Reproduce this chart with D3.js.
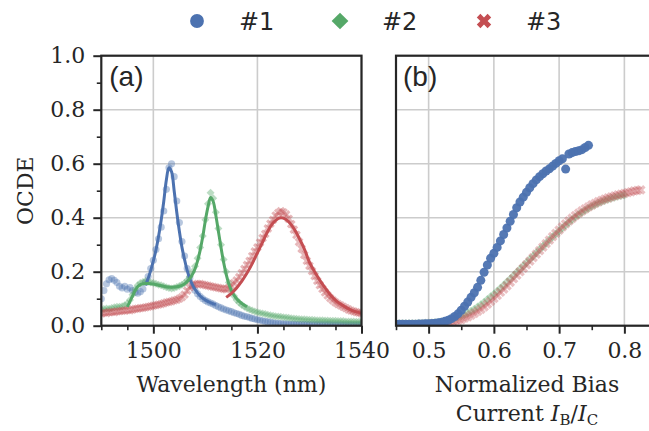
<!DOCTYPE html>
<html>
<head>
<meta charset="utf-8">
<script src="https://cdn.jsdelivr.net/npm/d3@7"></script>
<style>
  body { margin: 0; background: #fff; }
  svg text { fill: #262626; }
</style>
</head>
<body>
<svg id="chart" width="649" height="431"></svg>
<script>
// ---------- data ----------
const seriesNames = ["#1", "#2", "#3"];
const seriesColors = ["#4c72b0", "#55a868", "#c44e52"];

// (a) OCDE spectra, sampled every 0.5 nm from 1490 to 1540 nm
const wavelengthStart = 1490, wavelengthStep = 0.5;
const spec1 = [
  0.100, 0.130, 0.155, 0.170, 0.175, 0.168, 0.160, 0.146, 0.140, 0.146,
  0.135, 0.141, 0.130, 0.124, 0.120, 0.126, 0.136, 0.160, 0.182, 0.212,
  0.242, 0.282, 0.322, 0.365, 0.425, 0.505, 0.585, 0.600, 0.552, 0.462,
  0.382, 0.312, 0.258, 0.212, 0.176, 0.150, 0.131, 0.118, 0.108, 0.100,
  0.093, 0.088, 0.084, 0.080, 0.075, 0.070, 0.066, 0.062, 0.058, 0.055,
  0.052, 0.048, 0.045, 0.042, 0.038, 0.035, 0.033, 0.030, 0.027, 0.025,
  0.022, 0.020, 0.018, 0.016, 0.014, 0.013, 0.011, 0.010, 0.009, 0.008,
  0.007, 0.007, 0.006, 0.006, 0.006, 0.005, 0.005, 0.005, 0.005, 0.005,
  0.004, 0.004, 0.004, 0.004, 0.004, 0.004, 0.004, 0.004, 0.004, 0.003,
  0.003, 0.003, 0.003, 0.003, 0.003, 0.003, 0.003, 0.003, 0.003, 0.003,
  0.003
];
const spec2 = [
  0.060, 0.062, 0.064, 0.063, 0.066, 0.068, 0.070, 0.070, 0.072, 0.076,
  0.082, 0.095, 0.115, 0.135, 0.150, 0.158, 0.162, 0.166, 0.163, 0.160,
  0.158, 0.155, 0.152, 0.150, 0.146, 0.142, 0.140, 0.138, 0.140, 0.143,
  0.147, 0.152, 0.158, 0.168, 0.182, 0.200, 0.220, 0.250, 0.290, 0.332,
  0.392, 0.452, 0.492, 0.472, 0.420, 0.360, 0.300, 0.245, 0.200, 0.160,
  0.130, 0.110, 0.095, 0.085, 0.077, 0.070, 0.065, 0.060, 0.056, 0.053,
  0.050, 0.047, 0.045, 0.043, 0.041, 0.039, 0.037, 0.035, 0.034, 0.033,
  0.031, 0.030, 0.029, 0.028, 0.027, 0.026, 0.025, 0.024, 0.024, 0.023,
  0.022, 0.022, 0.021, 0.020, 0.020, 0.020, 0.019, 0.019, 0.018, 0.018,
  0.018, 0.017, 0.017, 0.017, 0.016, 0.016, 0.016, 0.016, 0.015, 0.015,
  0.015
];
const spec3 = [
  0.046, 0.048, 0.047, 0.050, 0.051, 0.050, 0.053, 0.054, 0.055, 0.056,
  0.058, 0.057, 0.060, 0.062, 0.063, 0.065, 0.066, 0.068, 0.070, 0.072,
  0.074, 0.076, 0.078, 0.080, 0.083, 0.086, 0.088, 0.090, 0.094, 0.096,
  0.100, 0.106, 0.115, 0.130, 0.142, 0.150, 0.153, 0.155, 0.155, 0.152,
  0.150, 0.148, 0.146, 0.144, 0.142, 0.140, 0.138, 0.136, 0.135, 0.140,
  0.148, 0.158, 0.168, 0.180, 0.195, 0.210, 0.225, 0.240, 0.258, 0.275,
  0.290, 0.308, 0.325, 0.340, 0.360, 0.378, 0.392, 0.408, 0.418, 0.424,
  0.420, 0.412, 0.396, 0.376, 0.356, 0.336, 0.310, 0.285, 0.262, 0.240,
  0.222, 0.202, 0.184, 0.166, 0.150, 0.136, 0.123, 0.112, 0.102, 0.094,
  0.086, 0.080, 0.075, 0.070, 0.065, 0.060, 0.056, 0.053, 0.050, 0.048,
  0.046
];

// (a) fitted resonance curves
const fit1X = [1498.5, 1499, 1499.5, 1500, 1500.5, 1501, 1501.5, 1502, 1502.5, 1503, 1503.5, 1504, 1504.5, 1505, 1505.5, 1506, 1506.5, 1507, 1507.5, 1508, 1509, 1510, 1511, 1512];
const fit1Y = [0.150, 0.175, 0.205, 0.240, 0.280, 0.330, 0.390, 0.460, 0.540, 0.585, 0.570, 0.500, 0.420, 0.350, 0.290, 0.245, 0.205, 0.175, 0.152, 0.135, 0.110, 0.095, 0.085, 0.078];
const fit2X = [1495, 1495.5, 1496, 1496.5, 1497, 1497.5, 1498, 1499, 1500, 1501, 1502, 1503, 1504, 1505, 1506, 1507, 1507.5, 1508, 1508.5, 1509, 1509.5, 1510, 1510.5, 1511, 1511.5, 1512, 1512.5, 1513, 1513.5, 1514, 1514.5, 1515, 1516, 1517, 1518];
const fit2Y = [0.070, 0.090, 0.110, 0.130, 0.145, 0.152, 0.155, 0.156, 0.154, 0.150, 0.146, 0.143, 0.143, 0.146, 0.155, 0.175, 0.190, 0.210, 0.240, 0.280, 0.330, 0.390, 0.440, 0.475, 0.460, 0.410, 0.350, 0.290, 0.235, 0.190, 0.155, 0.130, 0.100, 0.082, 0.070];
const fit3X = [1514, 1515, 1516, 1517, 1518, 1519, 1520, 1521, 1522, 1523, 1524, 1524.5, 1525, 1526, 1527, 1528, 1529, 1530, 1531, 1532, 1533, 1534, 1535, 1536, 1537, 1538, 1539, 1540];
const fit3Y = [0.105, 0.120, 0.140, 0.165, 0.195, 0.230, 0.270, 0.310, 0.350, 0.380, 0.397, 0.400, 0.398, 0.385, 0.360, 0.325, 0.285, 0.235, 0.200, 0.168, 0.140, 0.115, 0.095, 0.080, 0.068, 0.058, 0.051, 0.046];

// (b) OCDE versus normalized bias current, sampled every 0.005 from 0.45
const biasStart = 0.45, biasStep = 0.005;
const bias1 = [
  0.005, 0.005, 0.005, 0.005, 0.005, 0.005, 0.005, 0.006, 0.006, 0.007,
  0.007, 0.008, 0.009, 0.011, 0.013, 0.016, 0.020, 0.026, 0.034, 0.044,
  0.057, 0.072, 0.088, 0.105, 0.122, 0.142, 0.168, 0.198, 0.225, 0.250,
  0.268, 0.290, 0.314, 0.338, 0.362, 0.387, 0.412, 0.437, 0.458, 0.476,
  0.494, 0.511, 0.526, 0.540, 0.552, 0.563, 0.573, 0.581, 0.591, 0.601,
  0.611, 0.618, 0.580, 0.636, 0.641, 0.645, 0.648, 0.652, 0.660, 0.668
];
const bias2 = [
  0.008, 0.008, 0.008, 0.008, 0.008, 0.008, 0.008, 0.009, 0.009, 0.010,
  0.010, 0.011, 0.012, 0.013, 0.015, 0.017, 0.020, 0.023, 0.027, 0.031,
  0.036, 0.041, 0.047, 0.054, 0.061, 0.069, 0.078, 0.087, 0.097, 0.107,
  0.117, 0.128, 0.139, 0.150, 0.162, 0.173, 0.185, 0.197, 0.209, 0.221,
  0.233, 0.245, 0.257, 0.269, 0.281, 0.293, 0.305, 0.317, 0.329, 0.340,
  0.351, 0.362, 0.373, 0.383, 0.393, 0.403, 0.412, 0.420, 0.428, 0.435,
  0.442, 0.448, 0.454, 0.459, 0.464, 0.468, 0.472, 0.476, 0.479, 0.482,
  0.484
];
const bias3 = [
  0.004, 0.004, 0.004, 0.004, 0.004, 0.004, 0.004, 0.004, 0.005, 0.005,
  0.005, 0.006, 0.006, 0.007, 0.008, 0.009, 0.011, 0.013, 0.016, 0.019,
  0.023, 0.028, 0.033, 0.039, 0.046, 0.053, 0.061, 0.070, 0.080, 0.090,
  0.101, 0.112, 0.124, 0.136, 0.148, 0.161, 0.174, 0.187, 0.200, 0.213,
  0.226, 0.239, 0.252, 0.265, 0.278, 0.291, 0.304, 0.317, 0.330, 0.342,
  0.354, 0.366, 0.377, 0.388, 0.398, 0.408, 0.417, 0.425, 0.433, 0.440,
  0.447, 0.453, 0.459, 0.464, 0.469, 0.473, 0.477, 0.481, 0.484, 0.487,
  0.490, 0.493, 0.496, 0.499, 0.501, 0.503
];

// axis ticks
const yMajor = [0, 0.2, 0.4, 0.6, 0.8, 1.0];
const yMinor = [0.1, 0.3, 0.5, 0.7, 0.9];
const xaMajor = [1500, 1520, 1540];
const xaMinor = [1490, 1495, 1505, 1510, 1515, 1525, 1530, 1535];
const xbMajor = [0.5, 0.6, 0.7, 0.8];
const xbMinor = [0.45, 0.55, 0.65, 0.75, 0.85];

// ---------- layout ----------
const svg = d3.select("#chart");
const plotTop = 55.7, plotBottom = 325.7;
const aL = 101.3, aR = 361.5;
const bL = 396, bR = 657;

const y = d3.scaleLinear().domain([0, 1]).range([plotBottom, plotTop]);
const xa = d3.scaleLinear().domain([1490, 1540]).range([aL, aR]);
const xb = d3.scaleLinear().domain([0.45, 0.85]).range([bL, bR]);

const serif = "'DejaVu Serif', serif";
const sans = "'Liberation Sans', Arial, sans-serif";
const ink = "#262626";
const gridColor = "#cccccc";

const toPts = (arr, x0, dx) => arr.map((v, i) => [x0 + i * dx, v]);

const symCircle = d3.symbol().type(d3.symbolCircle);
const symDiamond = d3.symbol().type(d3.symbolSquare);
const symCross = d3.symbol().type(d3.symbolCross);

function marker(g, type, size, color, opacity, pts, xs) {
  const sel = g.append("g").selectAll("path").data(pts).join("path")
    .attr("fill", color).attr("fill-opacity", opacity).attr("stroke", "none");
  if (type === 0) sel.attr("d", symCircle.size(size)).attr("transform", d => `translate(${xs(d[0])},${y(d[1])})`);
  if (type === 1) sel.attr("d", symDiamond.size(size)).attr("transform", d => `translate(${xs(d[0])},${y(d[1])}) rotate(45)`);
  if (type === 2) sel.attr("d", symCross.size(size)).attr("transform", d => `translate(${xs(d[0])},${y(d[1])}) rotate(45)`);
}

function panel(id, xs, L, R, xMajor, xMinor, fmt, showY) {
  const g = svg.append("g");
  // grid
  g.append("g").selectAll("line").data(xMajor).join("line")
    .attr("x1", d => xs(d)).attr("x2", d => xs(d)).attr("y1", plotTop).attr("y2", plotBottom)
    .attr("stroke", gridColor).attr("stroke-width", 1.6);
  g.append("g").selectAll("line").data(yMajor).join("line")
    .attr("x1", L).attr("x2", R).attr("y1", d => y(d)).attr("y2", d => y(d))
    .attr("stroke", gridColor).attr("stroke-width", 1.6);

  svg.append("clipPath").attr("id", id).append("rect")
    .attr("x", L).attr("y", plotTop).attr("width", R - L).attr("height", plotBottom - plotTop);
  const plot = svg.append("g").attr("clip-path", `url(#${id})`);

  // frame
  const frame = svg.append("g");
  frame.append("rect").attr("x", L).attr("y", plotTop).attr("width", R - L).attr("height", plotBottom - plotTop)
    .attr("fill", "none").attr("stroke", ink).attr("stroke-width", 2.2);

  // x axis
  const ax = svg.append("g").attr("transform", `translate(0,${plotBottom})`);
  ax.call(d3.axisBottom(xs).tickValues(xMajor).tickSize(8).tickPadding(9).tickFormat(fmt));
  const axm = svg.append("g").attr("transform", `translate(0,${plotBottom})`);
  axm.call(d3.axisBottom(xs).tickValues(xMinor).tickSize(4.5).tickFormat(""));
  [ax, axm].forEach(a => {
    a.select(".domain").remove();
    a.selectAll("line").attr("stroke", ink).attr("stroke-width", a === ax ? 2 : 1.6);
  });
  ax.selectAll("text").attr("font-family", serif).attr("font-size", 22).attr("fill", ink);

  if (showY) {
    const ay = svg.append("g").attr("transform", `translate(${L},0)`);
    ay.call(d3.axisLeft(y).tickValues(yMajor).tickSize(8).tickPadding(8).tickFormat(d3.format(".1f")));
    const aym = svg.append("g").attr("transform", `translate(${L},0)`);
    aym.call(d3.axisLeft(y).tickValues(yMinor).tickSize(4.5).tickFormat(""));
    [ay, aym].forEach(a => {
      a.select(".domain").remove();
      a.selectAll("line").attr("stroke", ink).attr("stroke-width", a === ay ? 2 : 1.6);
    });
    ay.selectAll("text").attr("font-family", serif).attr("font-size", 22).attr("fill", ink);
  }
  return plot;
}

// ---------- panel (a) ----------
const pa = panel("clipA", xa, aL, aR, xaMajor, xaMinor, d3.format("d"), true);
marker(pa, 0, 40, seriesColors[0], 0.4, toPts(spec1, wavelengthStart, wavelengthStep), xa);
marker(pa, 1, 32, seriesColors[1], 0.4, toPts(spec2, wavelengthStart, wavelengthStep), xa);
marker(pa, 2, 48, seriesColors[2], 0.4, toPts(spec3, wavelengthStart, wavelengthStep), xa);

const fitLine = d3.line().x(d => xa(d[0])).y(d => y(d[1])).curve(d3.curveCatmullRom);
[[fit1X, fit1Y], [fit2X, fit2Y], [fit3X, fit3Y]].forEach(([fx, fy], i) => {
  pa.append("path").datum(fx.map((v, k) => [v, fy[k]]))
    .attr("d", fitLine).attr("fill", "none")
    .attr("stroke", seriesColors[i]).attr("stroke-width", 3).attr("stroke-linejoin", "round");
});

svg.append("text").attr("x", aL + 8).attr("y", plotTop + 30)
  .attr("font-family", sans).attr("font-size", 28).text("(a)");

// ---------- panel (b) ----------
const pb = panel("clipB", xb, bL, bR, xbMajor, xbMinor, d3.format(".1f"), false);
marker(pb, 1, 40, seriesColors[1], 0.35, toPts(bias2, biasStart, biasStep), xb);
marker(pb, 2, 60, seriesColors[2], 0.35, toPts(bias3, biasStart, biasStep), xb);
marker(pb, 0, 64, seriesColors[0], 0.95, toPts(bias1, biasStart, biasStep), xb);

svg.append("text").attr("x", bL + 7).attr("y", plotTop + 30)
  .attr("font-family", sans).attr("font-size", 28).text("(b)");

// ---------- axis titles ----------
svg.append("text").attr("transform", `translate(33,${(plotTop + plotBottom) / 2}) rotate(-90)`)
  .attr("text-anchor", "middle").attr("font-family", serif).attr("font-size", 22).text("OCDE");
svg.append("text").attr("x", (aL + aR) / 2).attr("y", 392)
  .attr("text-anchor", "middle").attr("font-family", serif).attr("font-size", 22).text("Wavelength (nm)");
svg.append("text").attr("x", 527).attr("y", 392)
  .attr("text-anchor", "middle").attr("font-family", serif).attr("font-size", 22).text("Normalized Bias");
const cur = svg.append("text").attr("x", 527).attr("y", 421)
  .attr("text-anchor", "middle").attr("font-family", serif).attr("font-size", 22);
cur.append("tspan").text("Current ");
cur.append("tspan").attr("font-style", "italic").text("I");
cur.append("tspan").attr("font-size", 15).attr("dy", 4).text("B");
cur.append("tspan").attr("dy", -4).text("/");
cur.append("tspan").attr("font-style", "italic").text("I");
cur.append("tspan").attr("font-size", 15).attr("dy", 4).text("C");

// ---------- legend ----------
const legend = svg.append("g");
const legX = [197, 340, 484];
seriesNames.forEach((name, i) => {
  const cx = legX[i], cy = 21;
  const p = legend.append("path").attr("fill", seriesColors[i]);
  if (i === 0) p.attr("d", symCircle.size(150)).attr("transform", `translate(${cx},${cy})`);
  if (i === 1) p.attr("d", symDiamond.size(140)).attr("transform", `translate(${cx},${cy}) rotate(45)`);
  if (i === 2) p.attr("d", symCross.size(130)).attr("transform", `translate(${cx},${cy}) rotate(45)`);
  legend.append("text").attr("x", cx + 42).attr("y", cy + 9)
    .attr("font-family", "'DejaVu Sans', sans-serif").attr("font-size", 24).text(name);
});
</script>
</body>
</html>
